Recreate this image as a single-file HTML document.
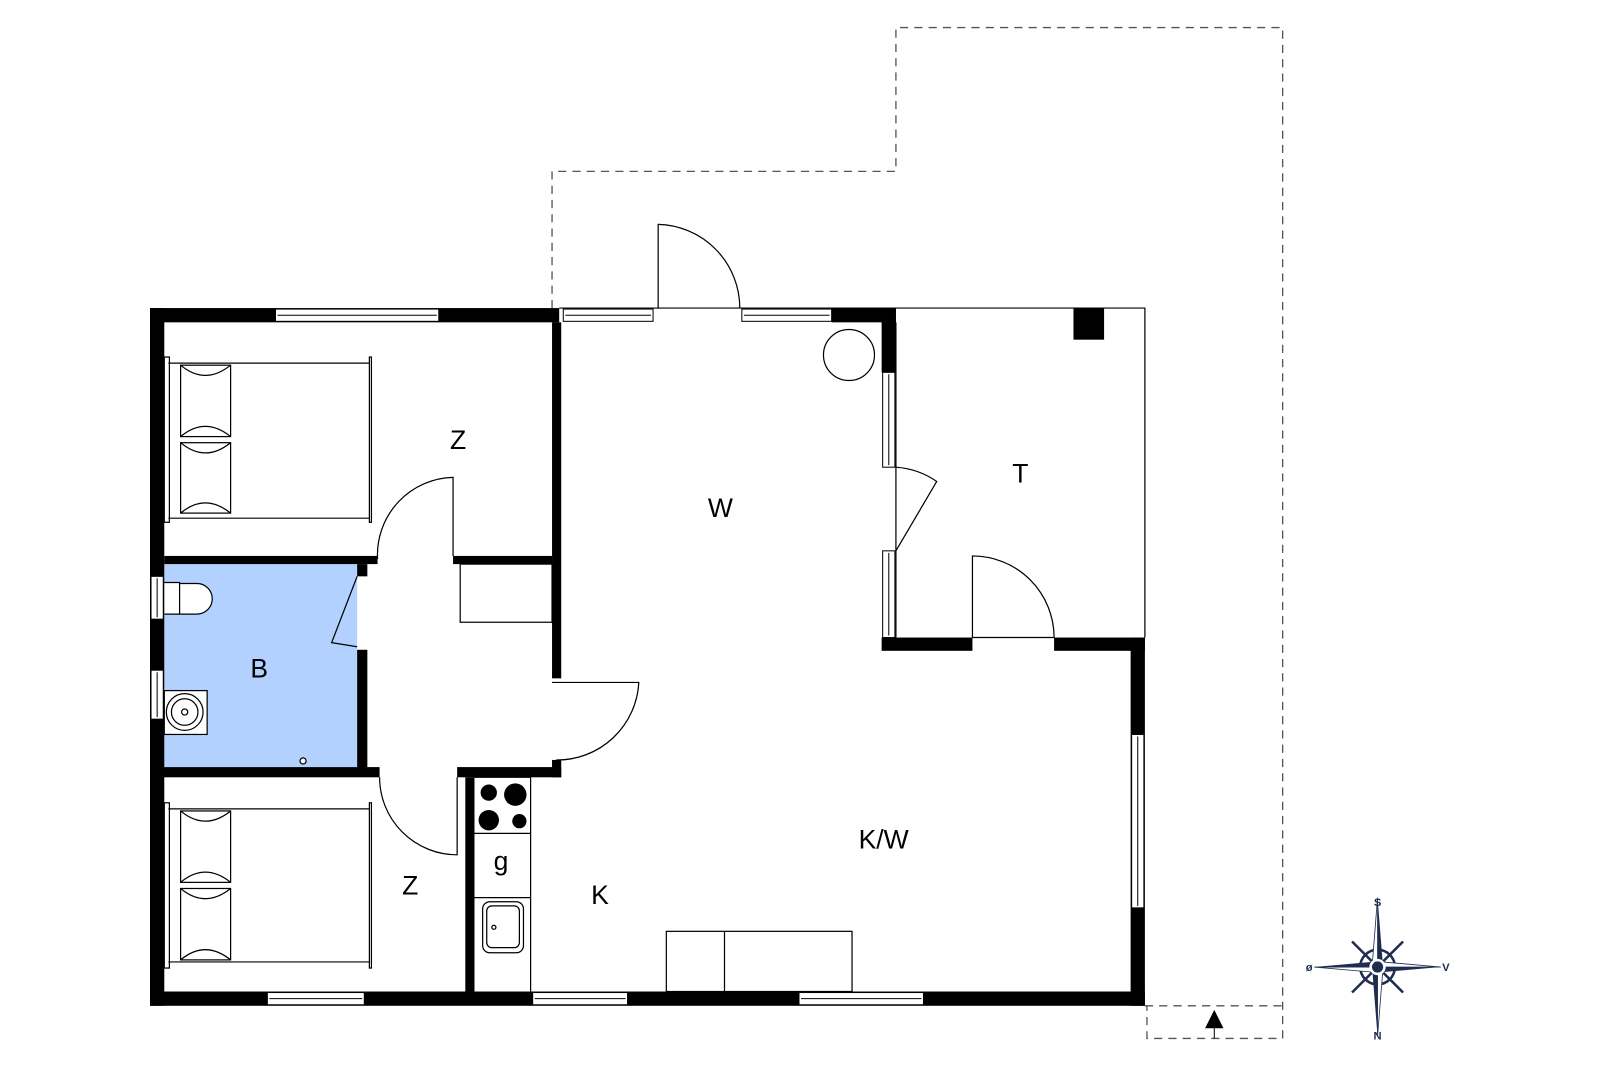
<!DOCTYPE html>
<html><head><meta charset="utf-8"><style>
html,body{margin:0;padding:0;background:#fff;}
svg{display:block;}
text{font-family:"Liberation Sans",sans-serif;font-size:26px;fill:#000;}
</style></head><body>
<svg width="1600" height="1067" viewBox="0 0 1568 1046" preserveAspectRatio="none" xmlns="http://www.w3.org/2000/svg">
<rect width="1568" height="1046" fill="#fff"/>
<rect x="161" y="553" width="189" height="199" fill="#b3d1ff"/>
<g fill="none" stroke="#555" stroke-width="1.3" stroke-dasharray="8,6">
<path d="M541 302 V168 H878 V27 H1257 V1018 H1124 V986"/>
<path d="M1122 986 H1257"/>
</g>
<polygon points="1190,990 1181,1008 1199,1008" fill="#000"/>
<line x1="1190" y1="1008" x2="1190" y2="1018" stroke="#000" stroke-width="1"/>
<g fill="none" stroke="#000" stroke-width="1.2">
<path d="M548 302 H1122 V625"/>
<path d="M878 316 V625"/>
<rect x="451" y="553" width="90" height="57"/>
<rect x="653" y="913" width="182" height="59"/>
<line x1="710" y1="913" x2="710" y2="972"/>
<circle cx="832" cy="348" r="25"/>
<path d="M645 302 V220 A82 82 0 0 1 725 302"/>
<path d="M444 545 V468 A76 76 0 0 0 370 548"/>
<path d="M541 669 H626 A80 80 0 0 1 545 745"/>
<path d="M448 762 V838 A76 76 0 0 1 372 762"/>
<path d="M953 625 V545 A80 80 0 0 1 1033 625"/>
<path d="M953 625 H1033"/>
<path d="M878 458 A80 80 0 0 1 918 472 L878 540"/>
<path d="M350 565 L325 630 L350 634"/>
<path d="M465 762 H520 V972"/>
<line x1="465" y1="817" x2="520" y2="817"/>
<line x1="465" y1="880" x2="520" y2="880"/>
<rect x="473" y="884" width="40" height="50" rx="7"/>
<rect x="477" y="888" width="32" height="41" rx="5"/>
<circle cx="484" cy="909" r="2"/>
<path d="M165 356 H362 M165 508 H362"/>
<rect x="161" y="350" width="5" height="162"/>
<rect x="362" y="350" width="2" height="162"/>
<rect x="177" y="358" width="49" height="70"/>
<rect x="177" y="434" width="49" height="69"/>
<path d="M177 358 Q201 378 226 358 M177 428 Q201 408 226 428 M177 434 Q201 454 226 434 M177 503 Q201 483 226 503"/>
<path d="M165 793 H362 M165 943 H362"/>
<rect x="161" y="787" width="5" height="162"/>
<rect x="362" y="787" width="2" height="162"/>
<rect x="177" y="795" width="49" height="70"/>
<rect x="177" y="871" width="49" height="70"/>
<path d="M177 795 Q201 815 226 795 M177 865 Q201 845 226 865 M177 871 Q201 891 226 871 M177 941 Q201 921 226 941"/>
<path d="M161 571 H176 V602 H161 M176 572 H193 A15 15 0 0 1 193 602 H176" fill="#fff"/>
<rect x="161" y="677" width="42" height="43" fill="#fff"/>
<circle cx="181" cy="698" r="18" fill="#fff"/>
<circle cx="181" cy="698" r="13"/>
<circle cx="181" cy="698" r="3"/>
<circle cx="297" cy="746" r="3" fill="#fff"/>
</g>
<g fill="#000">
<circle cx="479" cy="777" r="8"/><circle cx="505" cy="779" r="11"/>
<circle cx="479" cy="804" r="10"/><circle cx="509" cy="805" r="7"/>
<rect x="1052" y="302" width="30" height="31"/>
</g>
<g fill="#000">
<rect x="147" y="302" width="14" height="684"/>
<rect x="147" y="302" width="401" height="14"/>
<rect x="147" y="972" width="975" height="14"/>
<rect x="815" y="302" width="63" height="14"/>
<rect x="864" y="302" width="14" height="63"/>
<rect x="864" y="625" width="89" height="13"/>
<rect x="1033" y="625" width="89" height="13"/>
<rect x="1108" y="625" width="14" height="361"/>
<rect x="541" y="316" width="9" height="349"/>
<rect x="161" y="545" width="209" height="8"/>
<rect x="444" y="545" width="97" height="8"/>
<rect x="350" y="553" width="10" height="12"/>
<rect x="350" y="637" width="10" height="123"/>
<rect x="147" y="752" width="225" height="10"/>
<rect x="448" y="752" width="102" height="10"/>
<rect x="541" y="745" width="9" height="17"/>
<rect x="456" y="762" width="9" height="210"/>
</g>
<g fill="#fff" stroke="#000" stroke-width="1">
<rect x="270" y="303" width="160" height="12"/><line x1="272" y1="309" x2="428" y2="309"/>
<rect x="552" y="303" width="88" height="12"/><line x1="554" y1="309" x2="638" y2="309"/>
<rect x="727" y="303" width="88" height="12"/><line x1="729" y1="309" x2="813" y2="309"/>
<rect x="262" y="973" width="95" height="12"/><line x1="264" y1="979" x2="355" y2="979"/>
<rect x="522" y="973" width="93" height="12"/><line x1="524" y1="979" x2="613" y2="979"/>
<rect x="783" y="973" width="122" height="12"/><line x1="785" y1="979" x2="903" y2="979"/>
<rect x="865" y="365" width="12" height="93"/><line x1="871" y1="367" x2="871" y2="456"/>
<rect x="865" y="540" width="12" height="85"/><line x1="871" y1="542" x2="871" y2="623"/>
<rect x="1109" y="720" width="12" height="170"/><line x1="1115" y1="722" x2="1115" y2="888"/>
<rect x="148" y="565" width="12" height="42"/><line x1="154" y1="567" x2="154" y2="605"/>
<rect x="148" y="657" width="12" height="48"/><line x1="154" y1="659" x2="154" y2="703"/>
</g>
<text x="449" y="440" text-anchor="middle">Z</text>
<text x="706" y="507" text-anchor="middle">W</text>
<text x="1000" y="473" text-anchor="middle">T</text>
<text x="254" y="664" text-anchor="middle">B</text>
<text x="866" y="832" text-anchor="middle">K/W</text>
<text x="402" y="877" text-anchor="middle">Z</text>
<text x="491" y="853" text-anchor="middle">g</text>
<text x="588" y="886" text-anchor="middle">K</text>
<g transform="translate(1350,948)">
<g stroke="#1f2d50" stroke-width="2.5" fill="none">
<circle r="17"/>
<line x1="-25" y1="-25" x2="25" y2="25"/><line x1="-25" y1="25" x2="25" y2="-25"/>
</g>
<polygon points="0,-68 5,-5 0,0" fill="#1f2d50"/><polygon points="0,-68 -5,-5 0,0" fill="#fff" stroke="#1f2d50" stroke-width="0.8"/>
<polygon points="0,68 -5,5 0,0" fill="#1f2d50"/><polygon points="0,68 5,5 0,0" fill="#fff" stroke="#1f2d50" stroke-width="0.8"/>
<polygon points="-62,0 -5,-5 0,0" fill="#1f2d50"/><polygon points="-62,0 -5,5 0,0" fill="#fff" stroke="#1f2d50" stroke-width="0.8"/>
<polygon points="62,0 5,5 0,0" fill="#1f2d50"/><polygon points="62,0 5,-5 0,0" fill="#fff" stroke="#1f2d50" stroke-width="0.8"/>
<circle r="8" fill="#fff"/><circle r="5.5" fill="#1f2d50"/>
<text x="0" y="-60" text-anchor="middle" style="font-size:11px;font-weight:bold;fill:#1f2d50">S</text>
<text x="0" y="71" text-anchor="middle" style="font-size:11px;font-weight:bold;fill:#1f2d50">N</text>
<text x="-67" y="4" text-anchor="middle" style="font-size:11px;font-weight:bold;fill:#1f2d50">ø</text>
<text x="67" y="4" text-anchor="middle" style="font-size:11px;font-weight:bold;fill:#1f2d50">V</text>
</g>
</svg>
</body></html>
